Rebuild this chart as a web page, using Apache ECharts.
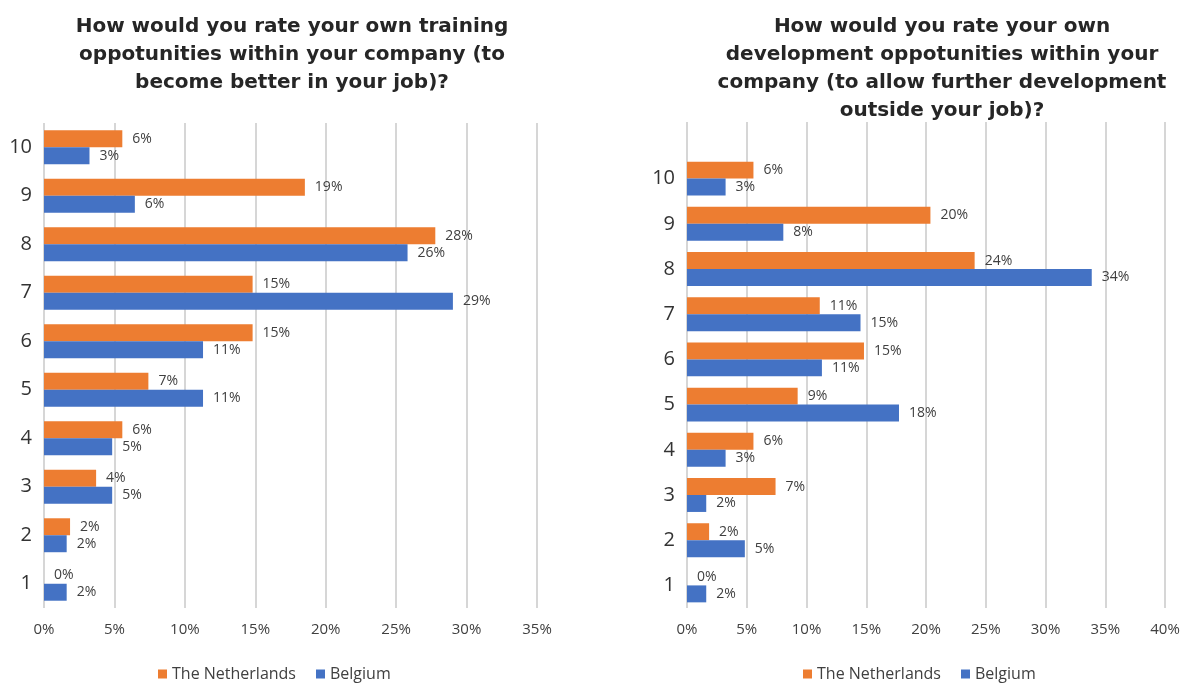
<!DOCTYPE html>
<html>
<head>
<meta charset="utf-8">
<script src="https://cdn.jsdelivr.net/npm/echarts@6/dist/echarts.min.js"></script>
<style>
  html, body { margin: 0; padding: 0; background: #fff; }
  #chart { width: 1188px; height: 683px; }
</style>
</head>
<body>
<div id="chart"></div>
<script>
// ratings 1..10 (bottom to top)
var categories = ['1', '2', '3', '4', '5', '6', '7', '8', '9', '10'];

// training opportunities (%)
var trainingNL = [0, 1.85, 3.70, 5.56, 7.41, 14.81, 14.81, 27.78, 18.52, 5.56];
var trainingBE = [1.61, 1.61, 4.84, 4.84, 11.29, 11.29, 29.03, 25.81, 6.45, 3.23];

// development opportunities (%)
var developNL = [0, 1.85, 7.41, 5.56, 9.26, 14.81, 11.11, 24.07, 20.37, 5.56];
var developBE = [1.61, 4.84, 1.61, 3.23, 17.74, 11.29, 14.52, 33.87, 8.06, 3.23];

var seriesNames = ['The Netherlands', 'Belgium'];
var colors = ['#ED7D31', '#4472C4'];

var labelFont = 'Open Sans, Noto Sans, sans-serif';
var textColor = '#404040';

function valueLabel() {
  return {
    show: true,
    position: 'right',
    distance: 10,
    fontFamily: labelFont,
    fontSize: 14,
    color: textColor,
    formatter: function (p) { return Math.round(p.value) + '%'; }
  };
}

function barSeries(name, color, data, xi, yi, gap) {
  return {
    name: name,
    type: 'bar',
    xAxisIndex: xi,
    yAxisIndex: yi,
    barGap: '0%',
    barCategoryGap: gap,
    itemStyle: { color: color },
    label: valueLabel(),
    data: data
  };
}

function valueAxis(gi, max, show) {
  return {
    type: 'value',
    gridIndex: gi,
    min: 0,
    max: max,
    interval: 5,
    show: show,
    axisLine: { show: false },
    axisTick: { show: false },
    axisLabel: {
      formatter: '{value}%',
      fontFamily: labelFont,
      fontSize: 15,
      color: textColor,
      margin: 14
    },
    splitLine: { show: true, lineStyle: { color: '#C9C9C9', width: 1.5 } }
  };
}

function catAxis(gi, show) {
  return {
    type: 'category',
    gridIndex: gi,
    data: categories,
    show: show,
    axisLine: { show: false },
    axisTick: { show: false },
    axisLabel: {
      fontFamily: labelFont,
      fontSize: 20,
      color: '#333',
      margin: 12
    }
  };
}

var titleStyle = {
  fontFamily: 'DejaVu Sans, sans-serif',
  fontWeight: 'bold',
  fontSize: 20,
  lineHeight: 28,
  color: '#262626'
};

var option = {
  animation: false,
  backgroundColor: '#fff',
  title: [
    {
      text: 'How would you rate your own training\noppotunities within your company (to\nbecome better in your job)?',
      left: 287,
      top: 8,
      textAlign: 'center',
      textStyle: titleStyle
    },
    {
      text: 'How would you rate your own\ndevelopment oppotunities within your\ncompany (to allow further development\noutside your job)?',
      left: 937,
      top: 8,
      textAlign: 'center',
      textStyle: titleStyle
    }
  ],
  legend: [
    {
      data: seriesNames,
      left: 153,
      top: 661,
      icon: 'rect',
      itemWidth: 9,
      itemHeight: 9,
      itemGap: 20,
      textStyle: { fontFamily: labelFont, fontSize: 16, color: textColor }
    },
    {
      data: seriesNames,
      left: 798,
      top: 661,
      icon: 'rect',
      itemWidth: 9,
      itemHeight: 9,
      itemGap: 20,
      textStyle: { fontFamily: labelFont, fontSize: 16, color: textColor }
    }
  ],
  grid: [
    { left: 44, width: 493, top: 123, bottom: 75 },
    { left: 687, width: 478, top: 122, bottom: 75 },
    { left: 687, width: 478, top: 156, bottom: 75 }
  ],
  xAxis: [
    valueAxis(0, 35, true),
    valueAxis(1, 40, true),
    valueAxis(2, 40, false)
  ],
  yAxis: [
    catAxis(0, true),
    catAxis(1, false),
    catAxis(2, true)
  ],
  series: [
    barSeries(seriesNames[0], colors[0], trainingNL, 0, 0, '30%'),
    barSeries(seriesNames[1], colors[1], trainingBE, 0, 0, '30%'),
    barSeries(seriesNames[0], colors[0], developNL, 2, 2, '25%'),
    barSeries(seriesNames[1], colors[1], developBE, 2, 2, '25%')
  ]
};

var myChart = echarts.init(document.getElementById('chart'));
myChart.setOption(option);
</script>
</body>
</html>
